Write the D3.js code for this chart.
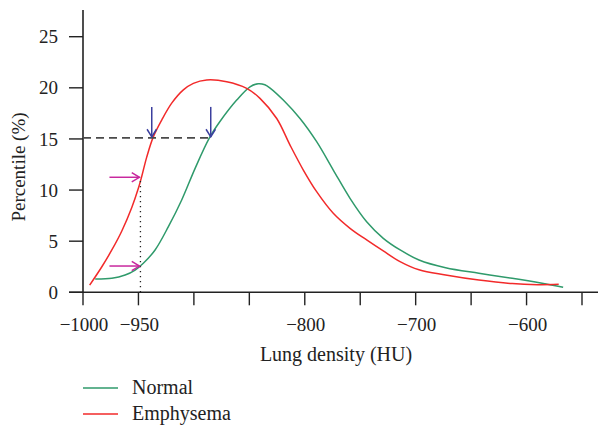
<!DOCTYPE html>
<html>
<head>
<meta charset="utf-8">
<script src="https://cdn.jsdelivr.net/npm/d3@7"></script>
<style>
  html, body { margin: 0; padding: 0; background: #fff; }
  svg text { font-family: "Liberation Serif", "DejaVu Serif", serif; fill: #222; }
</style>
</head>
<body>
<svg id="chart" width="598" height="425"></svg>
<script>
// ---- Data ----
const huNormal = [-989, -974, -962, -953, -945.6, -935, -923, -911, -899, -886, -876.5, -861.4, -849.4, -842, -836, -831, -819.4, -804.3, -789.3, -774.3, -759.2, -744.2, -729.2, -714, -697, -673, -643, -613, -586, -567];
const normalPct = [1.3, 1.37, 1.69, 2.18, 2.84, 4.14, 6.42, 9.03, 12.1, 15.1, 16.7, 18.8, 20.1, 20.4, 20.3, 19.95, 18.8, 17.0, 14.73, 11.96, 9.19, 6.9, 5.28, 4.14, 3.16, 2.4, 1.86, 1.37, 0.88, 0.49];
const huEmph = [-994, -983, -974, -965, -956, -950, -947, -942.6, -936.6, -929, -920, -909.5, -900.5, -888.5, -870.4, -852.4, -840.4, -825.3, -813.3, -801.3, -789.3, -774.3, -759.2, -744.2, -729.2, -714.1, -697, -673, -643, -613, -590, -571];
const emphPct = [0.7, 2.5, 4.14, 6.0, 8.3, 10.2, 11.35, 13.2, 15.2, 16.85, 18.5, 19.8, 20.44, 20.77, 20.6, 19.95, 18.97, 17.0, 14.4, 11.96, 9.84, 7.73, 6.26, 5.12, 4.04, 3.0, 2.2, 1.7, 1.2, 0.85, 0.75, 0.78];
const xTicks = [-1000, -950, -900, -850, -800, -750, -700, -650, -600, -550];
const xTickLabels = ["\u22121000", "\u2212950", "", "", "\u2212800", "", "\u2212700", "", "\u2212600", ""];
const yTicks = [0, 5, 10, 15, 20, 25];
const seriesNames = ["Normal", "Emphysema"];
const seriesColors = ["#2f9a6b", "#f22a2a"];
// annotation values
const thresholdPct = 15.1;            // dashed horizontal line level
const thresholdHU = [-938, -884.8];   // blue arrows (crossing points)
const cutoffHU = -948.2;              // dotted vertical line
const cutoffPct = [11.25, 2.57];      // magenta arrows

const svg = d3.select("#chart");
const x = d3.scaleLinear().domain([-1000, -550]).range([83, 582]);
const y = d3.scaleLinear().domain([0, 25]).range([292.3, 36.7]);

// axes lines
svg.append("line").attr("x1", 69).attr("x2", 598).attr("y1", y(0)).attr("y2", y(0))
  .attr("stroke", "#222").attr("stroke-width", 1.6);
svg.append("line").attr("x1", x(-1000)).attr("x2", x(-1000)).attr("y1", y(0)).attr("y2", 10)
  .attr("stroke", "#222").attr("stroke-width", 1.6);

// x ticks
const xg = svg.append("g");
xTicks.forEach((t, i) => {
  xg.append("line").attr("x1", x(t)).attr("x2", x(t)).attr("y1", y(0)).attr("y2", y(0) + 13)
    .attr("stroke", "#222").attr("stroke-width", 1.4);
  if (xTickLabels[i]) {
    xg.append("text").attr("x", x(t) + 1).attr("y", 331).attr("text-anchor", "middle")
      .attr("font-size", 19).text(xTickLabels[i]);
  }
});
// y ticks
const yg = svg.append("g");
yTicks.forEach(t => {
  yg.append("line").attr("x1", 69).attr("x2", x(-1000)).attr("y1", y(t)).attr("y2", y(t))
    .attr("stroke", "#222").attr("stroke-width", 1.4);
  yg.append("text").attr("x", 58).attr("y", y(t)).attr("dy", "0.35em").attr("text-anchor", "end")
    .attr("font-size", 19).text(t);
});

// axis titles
svg.append("text").attr("x", 336).attr("y", 361).attr("text-anchor", "middle")
  .attr("font-size", 20).text("Lung density (HU)");
svg.append("text").attr("transform", "translate(25,167) rotate(-90)").attr("text-anchor", "middle")
  .attr("font-size", 19).text("Percentile (%)");

// curves
const line = d3.line().x(d => x(d[0])).y(d => y(d[1])).curve(d3.curveCatmullRom.alpha(0.5));
const normalPts = huNormal.map((h, i) => [h, normalPct[i]]);
const emphPts = huEmph.map((h, i) => [h, emphPct[i]]);
svg.append("path").datum(normalPts).attr("d", line).attr("fill", "none")
  .attr("stroke", seriesColors[0]).attr("stroke-width", 1.5);
svg.append("path").datum(emphPts).attr("d", line).attr("fill", "none")
  .attr("stroke", seriesColors[1]).attr("stroke-width", 1.5);

// dashed threshold line
svg.append("line").attr("x1", x(-1000)).attr("x2", x(thresholdHU[1])).attr("y1", y(thresholdPct)).attr("y2", y(thresholdPct))
  .attr("stroke", "#4a4a4a").attr("stroke-width", 1.6).attr("stroke-dasharray", "8,5");
// dotted cutoff line
svg.append("line").attr("x1", x(cutoffHU)).attr("x2", x(cutoffHU)).attr("y1", y(0)).attr("y2", y(cutoffPct[0]))
  .attr("stroke", "#222").attr("stroke-width", 1.3).attr("stroke-dasharray", "1.3,3.7");

// arrows
function arrow(x1, y1, x2, y2, color) {
  const ang = Math.atan2(y2 - y1, x2 - x1);
  const L = 9, spread = 0.55;
  const g = svg.append("g").attr("stroke", color).attr("stroke-width", 1.5).attr("fill", "none");
  g.append("line").attr("x1", x1).attr("y1", y1).attr("x2", x2).attr("y2", y2);
  g.append("path").attr("d",
    `M${x2 - L * Math.cos(ang - spread)},${y2 - L * Math.sin(ang - spread)}L${x2},${y2}L${x2 - L * Math.cos(ang + spread)},${y2 - L * Math.sin(ang + spread)}`);
}
thresholdHU.forEach(h => arrow(x(h), y(thresholdPct) - 31, x(h), y(thresholdPct) - 1, "#3b3f9e"));
cutoffPct.forEach(p => arrow(x(cutoffHU) - 31, y(p), x(cutoffHU) - 1, y(p), "#c8289e"));

// legend
const lg = svg.append("g");
const legY = [388, 414];
seriesNames.forEach((n, i) => {
  lg.append("line").attr("x1", 83).attr("x2", 118).attr("y1", legY[i]).attr("y2", legY[i])
    .attr("stroke", seriesColors[i]).attr("stroke-width", 1.5);
  lg.append("text").attr("x", 132).attr("y", legY[i] + 6).attr("font-size", 20).text(n);
});
</script>
</body>
</html>
